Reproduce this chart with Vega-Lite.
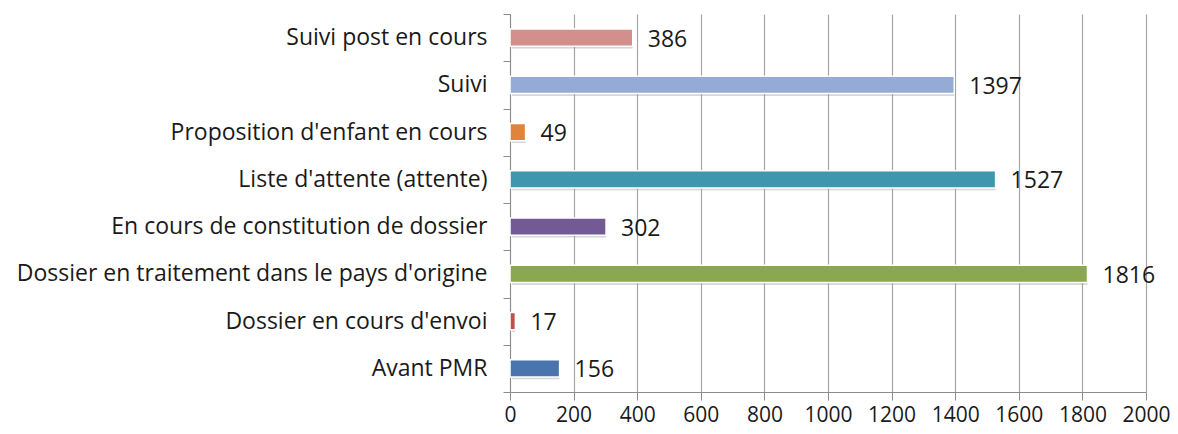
{
  "$schema": "https://vega.github.io/schema/vega-lite/v6.json",
  "autosize": {"type": "none"},
  "width": 636,
  "height": 378,
  "padding": {"left": 510, "top": 14, "right": 32, "bottom": 42},
  "background": "white",
  "config": {"view": {"stroke": null}, "font": "Open Sans"},
  "data": {
    "values": [
      {"statut": "Suivi post en cours", "nombre": 386, "couleur": "#d38f8c"},
      {"statut": "Suivi", "nombre": 1397, "couleur": "#94abd6"},
      {"statut": "Proposition d'enfant en cours", "nombre": 49, "couleur": "#e0833d"},
      {"statut": "Liste d'attente (attente)", "nombre": 1527, "couleur": "#3d98ad"},
      {"statut": "En cours de constitution de dossier", "nombre": 302, "couleur": "#735a94"},
      {"statut": "Dossier en traitement dans le pays d'origine", "nombre": 1816, "couleur": "#8aa84f"},
      {"statut": "Dossier en cours d'envoi", "nombre": 17, "couleur": "#c0504d"},
      {"statut": "Avant PMR", "nombre": 156, "couleur": "#4a74ad"}
    ]
  },
  "encoding": {
    "y": {
      "field": "statut",
      "type": "nominal",
      "sort": null,
      "scale": {"paddingInner": 0, "paddingOuter": 0},
      "axis": {
        "title": null,
        "tickBand": "extent",
        "tickSize": 7,
        "tickColor": "#8c8c8c",
        "domainColor": "#8c8c8c",
        "labelFontSize": 23,
        "labelColor": "#1a1a1a",
        "labelPadding": 16,
        "labelLimit": 700
      }
    },
    "x": {
      "field": "nombre",
      "type": "quantitative",
      "scale": {"domain": [0, 2000], "nice": false},
      "axis": {
        "title": null,
        "values": [0, 200, 400, 600, 800, 1000, 1200, 1400, 1600, 1800, 2000],
        "format": "d",
        "labelOverlap": false,
        "labelBound": false,
        "labelFlush": false,
        "grid": true,
        "gridColor": "#a6a6a6",
        "gridWidth": 1.2,
        "tickSize": 8,
        "tickColor": "#8c8c8c",
        "domainColor": "#8c8c8c",
        "labelFontSize": 21,
        "labelColor": "#1a1a1a",
        "labelPadding": 4
      }
    }
  },
  "layer": [
    {
      "mark": {"type": "bar", "height": {"band": 0.36}, "color": "#9a9a9a", "opacity": 0.4, "xOffset": 2, "yOffset": 2.5, "cornerRadius": 1},
      "encoding": {}
    },
    {
      "mark": {"type": "bar", "height": {"band": 0.36}, "stroke": "white", "strokeWidth": 1.5},
      "encoding": {"color": {"field": "couleur", "type": "nominal", "scale": null, "legend": null}}
    },
    {
      "mark": {"type": "text", "align": "left", "baseline": "middle", "dx": 15, "dy": 2, "fontSize": 23, "color": "#1a1a1a"},
      "encoding": {"text": {"field": "nombre", "type": "quantitative", "format": "d"}}
    }
  ]
}
